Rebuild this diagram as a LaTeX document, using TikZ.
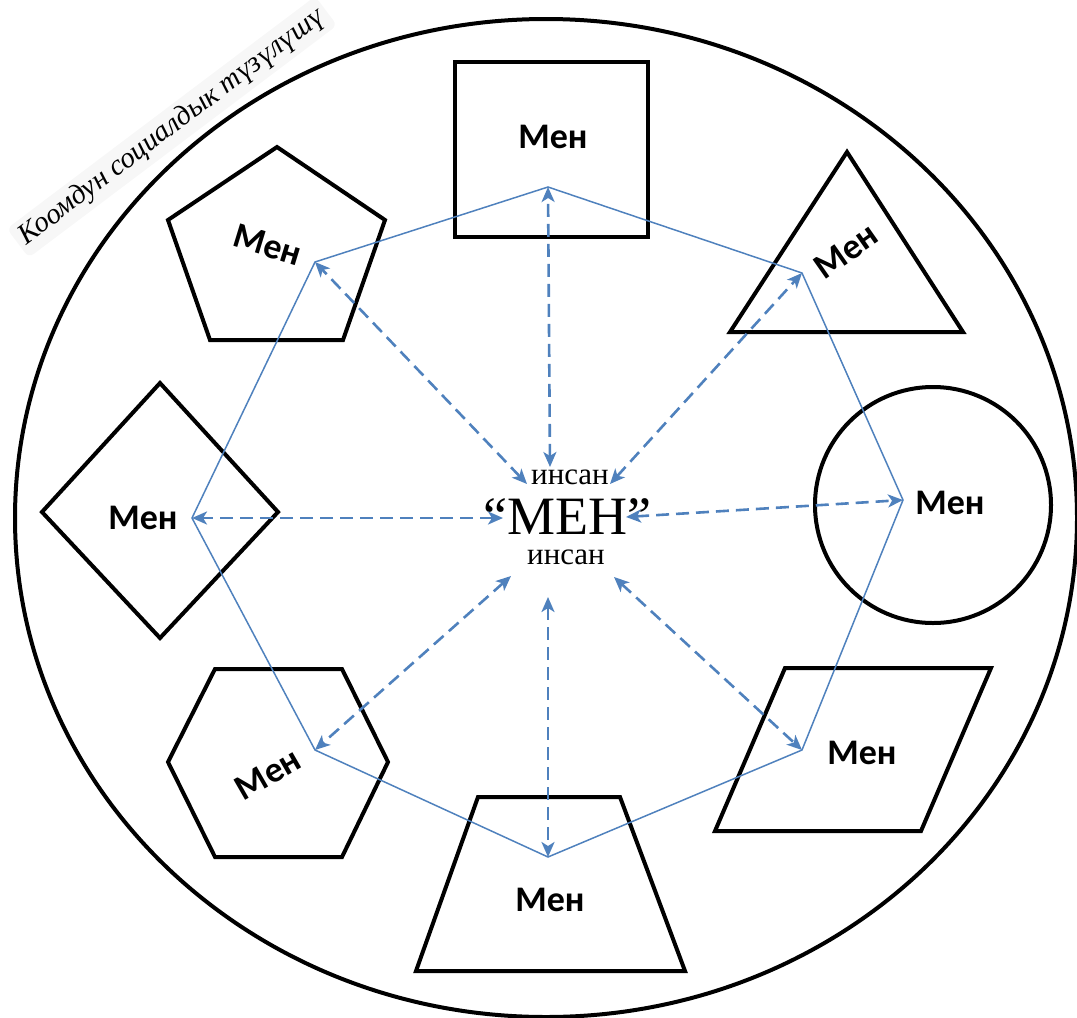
\documentclass[tikz,border=0pt]{standalone}
\usepackage{fontspec}
\setmainfont{Liberation Serif}
\newfontfamily\menfont{Carlito}
\usetikzlibrary{arrows.meta}
\definecolor{hubblue}{RGB}{79,129,189}
\begin{document}
\begin{tikzpicture}[x=1pt,y=-1pt,
  shapeline/.style={draw=black,line width=4pt,line join=miter},
  menlabel/.style={font=\menfont\bfseries\fontsize{36}{42}\selectfont,inner sep=0pt},
  ring/.style={draw=hubblue,line width=1.5pt,line join=miter},
  dasharrow/.style={draw=hubblue,line width=2.6pt,dash pattern=on 13pt off 7pt,
    {Stealth[length=15pt,width=13pt,inset=4pt]}-{Stealth[length=15pt,width=13pt,inset=4pt]}},
  centertext/.style={inner sep=0pt}]
\useasboundingbox (0,0) rectangle (1077,1018);
% outer ellipse
\draw[line width=4pt] (546,518) ellipse [x radius=531, y radius=499];
% title
\node[fill=black!3,rounded corners=6pt,rotate=37,inner sep=5pt,
  font=\itshape\fontsize{29}{33}\selectfont] (title) at (172,127) {Коомдун социалдык түзүлүшү};
% shapes
\draw[shapeline] (455,62) rectangle (648,237);
\draw[shapeline] (847,152) -- (963,332) -- (730,332) -- cycle;
\draw[shapeline] (933,505) circle [radius=118];
\draw[shapeline] (785,668) -- (991,668) -- (921,831) -- (715,831) -- cycle;
\draw[shapeline] (478,797) -- (620,797) -- (685,971) -- (416,971) -- cycle;
\draw[shapeline] (215,669) -- (342,669) -- (388,762) -- (342,857) -- (215,857) -- (168,762) -- cycle;
\draw[shapeline] (160,383) -- (278,512) -- (160,638) -- (42,512) -- cycle;
\draw[shapeline] (277,147) -- (385,220) -- (343,340) -- (210,340) -- (168,220) -- cycle;
% labels
\node[menlabel] (mSq) at (553,137) {Мен};
\node[menlabel,rotate=35] (mTri) at (846,251) {Мен};
\node[menlabel] (mCir) at (950,503) {Мен};
\node[menlabel] (mPar) at (862,753) {Мен};
\node[menlabel] (mTrap) at (550,900) {Мен};
\node[menlabel,rotate=30] (mHex) at (268,774) {Мен};
\node[menlabel] (mDia) at (143,518) {Мен};
\node[menlabel,rotate=-17] (mPen) at (268,245) {Мен};
% centre text
\node[centertext,font=\fontsize{31}{36}\selectfont] (insanT) at (570,477) {инсан};
\node[centertext,font=\fontsize{54}{60}\selectfont] (men) at (567,517) {“МЕН”};
\node[centertext,font=\fontsize{31}{36}\selectfont] (insanB) at (566,557) {инсан};
% hub points
\coordinate (hT) at (548,187);
\coordinate (hTR) at (802,273);
\coordinate (hR) at (903,500);
\coordinate (hBR) at (802,750);
\coordinate (hB) at (548,857);
\coordinate (hBL) at (315,750);
\coordinate (hL) at (192,518);
\coordinate (hTL) at (315,262);
% centre ends
\coordinate (cT) at (550,467);
\coordinate (cTR) at (610,484);
\coordinate (cR) at (626,517);
\coordinate (cBR) at (614,577);
\coordinate (cB) at (548,597);
\coordinate (cBL) at (511,576);
\coordinate (cL) at (503,518);
\coordinate (cTL) at (527,484);
% ring
\draw[ring] (hT) -- (hTR) -- (hR) -- (hBR) -- (hB) -- (hBL) -- (hL) -- (hTL) -- cycle;
% arrows
\draw[dasharrow] (cT) -- (hT);
\draw[dasharrow] (cTR) -- (hTR);
\draw[dasharrow] (cR) -- (hR);
\draw[dasharrow] (cBR) -- (hBR);
\draw[dasharrow] (cB) -- (hB);
\draw[dasharrow] (cBL) -- (hBL);
\draw[dasharrow] (cL) -- (hL);
\draw[dasharrow] (cTL) -- (hTL);
\end{tikzpicture}
\end{document}
